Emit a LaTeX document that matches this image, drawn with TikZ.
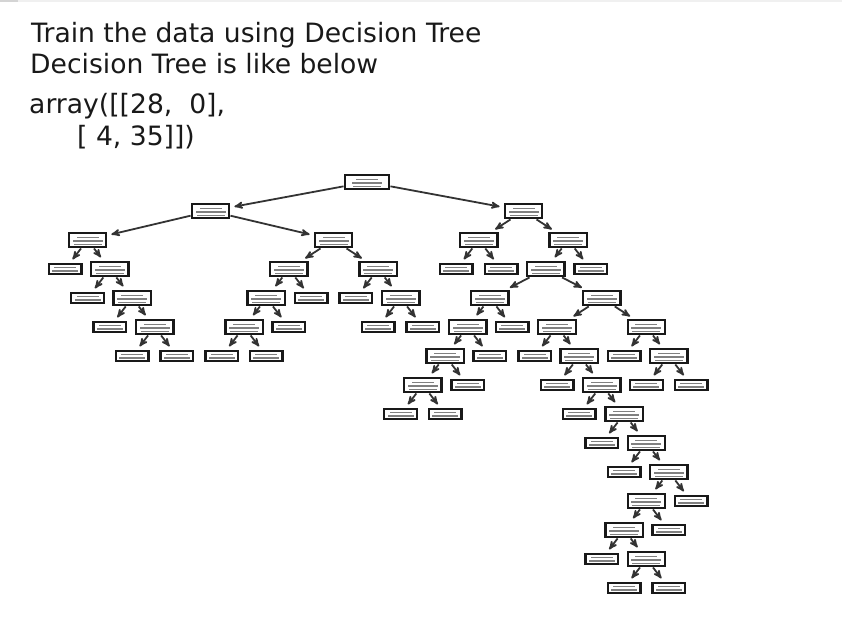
\documentclass[tikz,border=0pt]{standalone}
\usepackage{fontspec}
\setmainfont{DejaVu Sans}
\usepackage{tikz}
\usepackage{xcolor}
\usetikzlibrary{arrows}
\usetikzlibrary{positioning}

\begin{document}
\begin{tikzpicture}[x=1pt,y=-1pt,>=stealth',node distance=29pt,
                    caption text/.style={anchor=base west,inner sep=0pt,text=black!90,font=\fontsize{26.6}{30}\selectfont},
                    split node/.style={rectangle,draw=black!90,line width=2.4pt,fill=white,inner sep=0pt,
                      minimum width=37.5pt,minimum height=14.5pt,
                      path picture={\foreach \xx/\yy/\ww in {-11/3.4/22,-15/-0.3/30,-14/-4/28}
                        \fill[black!50] ([xshift=\xx pt,yshift=\yy pt]path picture bounding box.center) rectangle ++(\ww pt,-1.4pt);}},
                    root node/.style={split node,minimum width=44.5pt},
                    leaf node/.style={rectangle,draw=black!90,line width=2.4pt,fill=white,inner sep=0pt,
                      minimum width=32.5pt,minimum height=10.5pt,
                      path picture={\foreach \xx/\yy/\ww in {-11/2.4/22,-13/-1.2/26}
                        \fill[black!50] ([xshift=\xx pt,yshift=\yy pt]path picture bounding box.center) rectangle ++(\ww pt,-1.4pt);}},
                    lt/.style={below of=#1,xshift=-22.36pt},
                    rt/.style={below of=#1,xshift=22.36pt}]

  \useasboundingbox (0,0) rectangle (842,626);
  \fill[black!6] (0,0) rectangle (842,2);
  \fill[black!17] (0,0) rectangle (18,2);

  % printed output above the tree
  \node[caption text] (title) at (31,42.5) {Train the data using Decision Tree};
  \node[caption text] (subtitle) at (30,73.5) {Decision Tree is like below};
  \node[caption text] (arr1) at (29,113) {array([[28,\ \ 0],};
  \node[caption text] (arr2) at (77,145) {[ 4, 35]])};

  % tree, numbered in preorder
  \node[root node] (0) at (367,182) {};
  \node[split node] (1) [below of=0,xshift=-156.5pt] {};
  \node[split node] (2) [below of=1,xshift=-123pt] {};
  \node[leaf node,lt=2] (3) {};
  \node[split node,rt=2] (4) {};
  \node[leaf node,lt=4] (5) {};
  \node[split node,rt=4] (6) {};
  \node[leaf node,lt=6] (7) {};
  \node[split node,rt=6] (8) {};
  \node[leaf node,lt=8] (9) {};
  \node[leaf node,rt=8] (10) {};
  \node[split node] (11) [below of=1,xshift=123pt] {};
  \node[split node] (12) [below of=11,xshift=-44.7pt] {};
  \node[split node,lt=12] (13) {};
  \node[split node,lt=13] (14) {};
  \node[leaf node,lt=14] (15) {};
  \node[leaf node,rt=14] (16) {};
  \node[leaf node,rt=13] (17) {};
  \node[leaf node,rt=12] (18) {};
  \node[split node] (19) [below of=11,xshift=44.7pt] {};
  \node[leaf node,lt=19] (20) {};
  \node[split node,rt=19] (21) {};
  \node[leaf node,lt=21] (22) {};
  \node[leaf node,rt=21] (23) {};
  \node[split node] (24) [below of=0,xshift=156.5pt] {};
  \node[split node] (25) [below of=24,xshift=-44.7pt] {};
  \node[leaf node,lt=25] (26) {};
  \node[leaf node,rt=25] (27) {};
  \node[split node] (28) [below of=24,xshift=44.7pt] {};
  \node[split node,lt=28] (29) {};
  \node[split node] (30) [below of=29,xshift=-55.9pt] {};
  \node[split node,lt=30] (31) {};
  \node[split node,lt=31] (32) {};
  \node[split node,lt=32] (33) {};
  \node[leaf node,lt=33] (34) {};
  \node[leaf node,rt=33] (35) {};
  \node[leaf node,rt=32] (36) {};
  \node[leaf node,rt=31] (37) {};
  \node[leaf node,rt=30] (38) {};
  \node[split node] (39) [below of=29,xshift=55.9pt] {};
  \node[split node] (40) [below of=39,xshift=-44.7pt] {};
  \node[leaf node,lt=40] (41) {};
  \node[split node,rt=40] (42) {};
  \node[leaf node,lt=42] (43) {};
  \node[split node,rt=42] (44) {};
  \node[leaf node,lt=44] (45) {};
  \node[split node,rt=44] (46) {};
  \node[leaf node,lt=46] (47) {};
  \node[split node,rt=46] (48) {};
  \node[leaf node,lt=48] (49) {};
  \node[split node,rt=48] (50) {};
  \node[split node,lt=50] (51) {};
  \node[split node,lt=51] (52) {};
  \node[leaf node,lt=52] (53) {};
  \node[split node,rt=52] (54) {};
  \node[leaf node,lt=54] (55) {};
  \node[leaf node,rt=54] (56) {};
  \node[leaf node,rt=51] (57) {};
  \node[leaf node,rt=50] (58) {};
  \node[split node] (59) [below of=39,xshift=44.7pt] {};
  \node[leaf node,lt=59] (60) {};
  \node[split node,rt=59] (61) {};
  \node[leaf node,lt=61] (62) {};
  \node[leaf node,rt=61] (63) {};
  \node[leaf node,rt=28] (64) {};

  \path[->,draw=black!80,line width=1.8pt,shorten >=4pt]
    (0) edge (1) edge (24)
    (1) edge (2) edge (11)
    (2) edge (3) edge (4)
    (4) edge (5) edge (6)
    (6) edge (7) edge (8)
    (8) edge (9) edge (10)
    (11) edge (12) edge (19)
    (12) edge (13) edge (18)
    (13) edge (14) edge (17)
    (14) edge (15) edge (16)
    (19) edge (20) edge (21)
    (21) edge (22) edge (23)
    (24) edge (25) edge (28)
    (25) edge (26) edge (27)
    (28) edge (29) edge (64)
    (29) edge (30) edge (39)
    (30) edge (31) edge (38)
    (31) edge (32) edge (37)
    (32) edge (33) edge (36)
    (33) edge (34) edge (35)
    (39) edge (40) edge (59)
    (40) edge (41) edge (42)
    (42) edge (43) edge (44)
    (44) edge (45) edge (46)
    (46) edge (47) edge (48)
    (48) edge (49) edge (50)
    (50) edge (51) edge (58)
    (51) edge (52) edge (57)
    (52) edge (53) edge (54)
    (54) edge (55) edge (56)
    (59) edge (60) edge (61)
    (61) edge (62) edge (63)
    ;
\end{tikzpicture}
\end{document}
